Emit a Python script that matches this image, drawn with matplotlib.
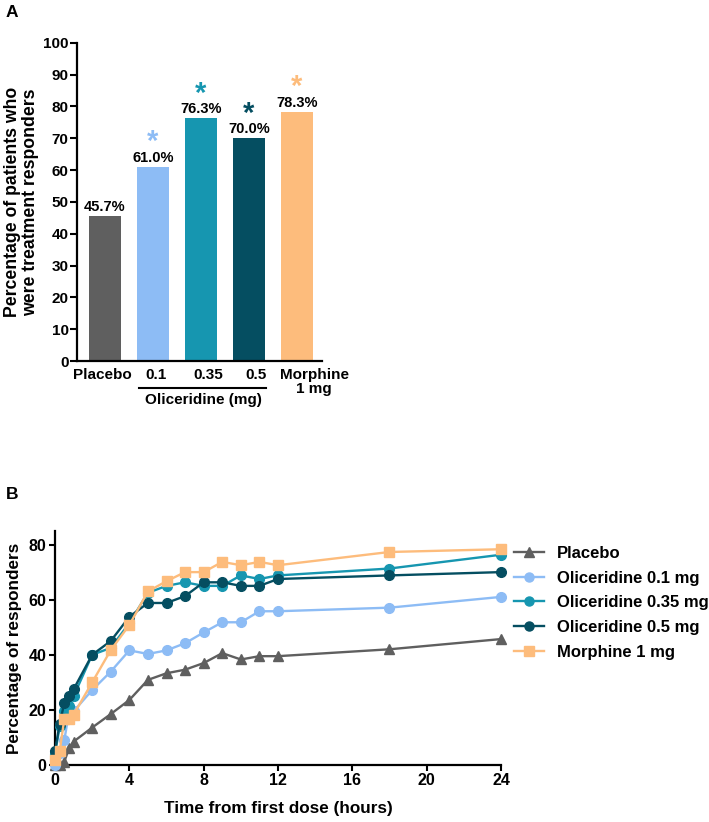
import numpy as np
import matplotlib
matplotlib.use("Agg")
import matplotlib.pyplot as plt
from matplotlib.lines import Line2D

plt.rcParams['font.family'] = ['Liberation Sans', 'DejaVu Sans']
plt.rcParams['font.weight'] = 'bold'

# panel A data
bar_labels = ["Placebo", "0.1", "0.35", "0.5", "Morphine\n1 mg"]
bar_values = [45.7, 61.0, 76.3, 70.0, 78.3]
bar_colors = ["#5f5f5f", "#8dbcf5", "#1696b0", "#054e61", "#fdbc7c"]
bar_star = [False, True, True, True, True]

# panel B data
hours = [0, 0.25, 0.5, 0.75, 1, 2, 3, 4, 5, 6, 7, 8, 9, 10, 11, 12, 18, 24]
placebo = [0, 0, 1.2, 6.0, 8.5, 13.6, 18.5, 23.6, 30.9, 33.3, 34.6, 37.0, 40.6, 38.3, 39.5, 39.5, 42.0, 45.7]
oli_01 = [0, 4.2, 9.0, 19.0, 19.5, 27.2, 33.9, 41.6, 40.3, 41.6, 44.2, 48.1, 51.8, 51.8, 55.8, 55.8, 57.1, 61.0]
oli_035 = [4.0, 14.0, 19.5, 21.5, 25.0, 40.0, 42.5, 51.5, 62.5, 65.0, 66.3, 65.0, 65.0, 68.8, 67.5, 68.8, 71.3, 76.3]
oli_05 = [5.0, 15.0, 22.5, 25.0, 27.5, 40.0, 45.0, 53.8, 58.8, 58.8, 61.3, 66.3, 66.3, 65.0, 65.0, 67.5, 68.8, 70.0]
morphine = [2.0, 5.0, 16.7, 16.7, 18.3, 30.0, 41.7, 50.8, 63.0, 66.7, 70.0, 70.0, 73.7, 72.5, 73.7, 72.5, 77.3, 78.3]
series_names = ["Placebo", "Oliceridine 0.1 mg", "Oliceridine 0.35 mg", "Oliceridine 0.5 mg", "Morphine 1 mg"]
series_markers = ["^", "o", "o", "o", "s"]

fig = plt.figure(figsize=(7.09, 8.22), dpi=100)

# ---- panel A ----
ax1 = fig.add_axes([0.1086, 0.5608, 0.3455, 0.3872])
x = np.arange(len(bar_values))
ax1.bar(x, bar_values, width=0.667, color=bar_colors)
for xi, v, c, s in zip(x, bar_values, bar_colors, bar_star):
    ax1.text(xi, v + 0.6, f"{v:.1f}%", ha="center", va="bottom", fontsize=10.5, fontweight="bold")
    if s:
        ax1.text(xi, v + 3.3, "*", ha="center", va="bottom", fontsize=21, fontweight="bold", color=c)
ax1.set_xlim(-0.58, 4.52)
ax1.set_ylim(0, 100)
ax1.set_yticks(range(0, 101, 10))
# labels sit a little right of the bar centres, as in the original
ax1.set_xticks(x + np.array([-0.06, 0.06, 0.15, 0.15, 0.36]))
ax1.set_xticklabels(bar_labels, fontsize=11, fontweight="bold", va="top", linespacing=1.0)
ax1.tick_params(axis="x", length=0, pad=5)
ax1.tick_params(axis="y", width=1.5, length=5, labelsize=11, pad=1)
for lab in ax1.get_yticklabels():
    lab.set_fontweight("bold")
for sp in ["top", "right"]:
    ax1.spines[sp].set_visible(False)
for sp in ["left", "bottom"]:
    ax1.spines[sp].set_linewidth(1.6)
ax1.set_ylabel("Percentage of patients who\nwere treatment responders", fontsize=12.7,
               fontweight="bold", labelpad=3, linespacing=1.05)
# bracket under oliceridine doses
ax1.plot([0.72, 3.35], [-0.086, -0.086], transform=ax1.get_xaxis_transform(),
         color="black", lw=1.5, clip_on=False)
ax1.text(2.05, -0.1, "Oliceridine (mg)", transform=ax1.get_xaxis_transform(),
         ha="center", va="top", fontsize=11, fontweight="bold")

fig.text(0.008, 0.994, "A", fontsize=12.5, fontweight="bold", va="top")
fig.text(0.008, 0.407, "B", fontsize=12.5, fontweight="bold", va="top")

# ---- panel B ----
ax2 = fig.add_axes([0.0776, 0.0693, 0.629, 0.285])
all_series = [placebo, oli_01, oli_035, oli_05, morphine]
order = [4, 0, 1, 3, 2]
for i in order:
    ax2.plot(hours, all_series[i], color=bar_colors[i], marker=series_markers[i],
             markersize=7, lw=1.7, clip_on=False, zorder=3 + i)
ax2.set_xlim(0, 24)
ax2.set_ylim(0, 85)
ax2.set_xticks(range(0, 25, 4))
ax2.set_yticks(range(0, 81, 20))
ax2.tick_params(width=1.5, length=4, labelsize=11.5, pad=2)
for lab in ax2.get_xticklabels() + ax2.get_yticklabels():
    lab.set_fontweight("bold")
for sp in ["top", "right"]:
    ax2.spines[sp].set_visible(False)
for sp in ["left", "bottom"]:
    ax2.spines[sp].set_linewidth(1.6)
ax2.set_xlabel("Time from first dose (hours)", fontsize=12.3, fontweight="bold", labelpad=9)
ax2.set_ylabel("Percentage of responders", fontsize=12.3, fontweight="bold", labelpad=5)

handles = [Line2D([], [], color=bar_colors[i], marker=series_markers[i], markersize=6.5,
                  lw=1.7) for i in range(5)]
fig.legend(handles, series_names, loc="upper left", bbox_to_anchor=(0.715, 0.344),
           frameon=False, prop={"size": 12, "weight": "bold"}, handlelength=1.8,
           labelspacing=0.58, handletextpad=0.8, borderaxespad=0)

fig.savefig("out.png", dpi=100)
